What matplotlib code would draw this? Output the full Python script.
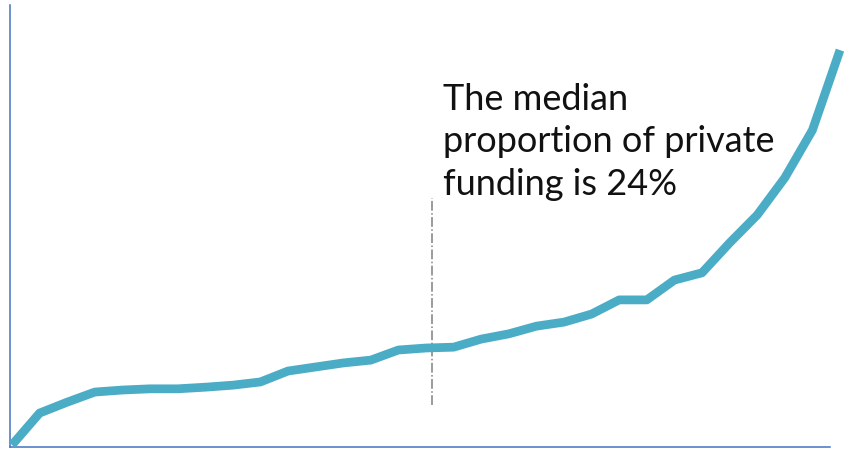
import matplotlib
matplotlib.use('Agg')
import matplotlib.pyplot as plt

# share of private funding (%), sorted, one point per project
rank = list(range(31))
private_share = [0.0, 7.9, 10.6, 13.1, 13.6, 13.9, 13.9, 14.3, 14.8, 15.6,
                 18.3, 19.3, 20.3, 21.0, 23.5, 24.0, 24.2, 26.2, 27.5, 29.4,
                 30.4, 32.4, 35.9, 35.9, 40.8, 42.6, 50.0, 56.9, 66.1, 77.9, 97.7]
median_pos = 15.2
note = 'The median\nproportion of private\nfunding is 24%'

W, H = 844, 449
fig = plt.figure(figsize=(W / 100, H / 100), dpi=100)
ax = fig.add_axes([10 / W, 2 / H, 834 / W, 442 / H])

px = 27.6    # pixels per rank step
k = 0.2474   # % per pixel
ax.set_xlim((10 - 12) / px, (844 - 12) / px)
ax.set_ylim(-2 * k, 440 * k)

ax.plot(rank, private_share, color='#4BACC6', lw=6.3, solid_capstyle='butt',
        solid_joinstyle='round', clip_on=False, zorder=3)
ax.vlines(median_pos, 9.9, 61.1, colors='#808080', linestyles='dashdot', lw=1.1)
ax.text(15.6, 89.5, note, fontsize=26, family='Lato', va='top', ha='left',
        color='#111111', linespacing=1.34)

for s in ['top', 'right']:
    ax.spines[s].set_visible(False)
for s in ['left', 'bottom']:
    ax.spines[s].set_color('#4472C4')
    ax.spines[s].set_linewidth(1.1)
ax.spines['bottom'].set_bounds(ax.get_xlim()[0], (830 - 12) / px)
ax.set_xticks([])
ax.set_yticks([])

plt.savefig('out.png', dpi=100)
